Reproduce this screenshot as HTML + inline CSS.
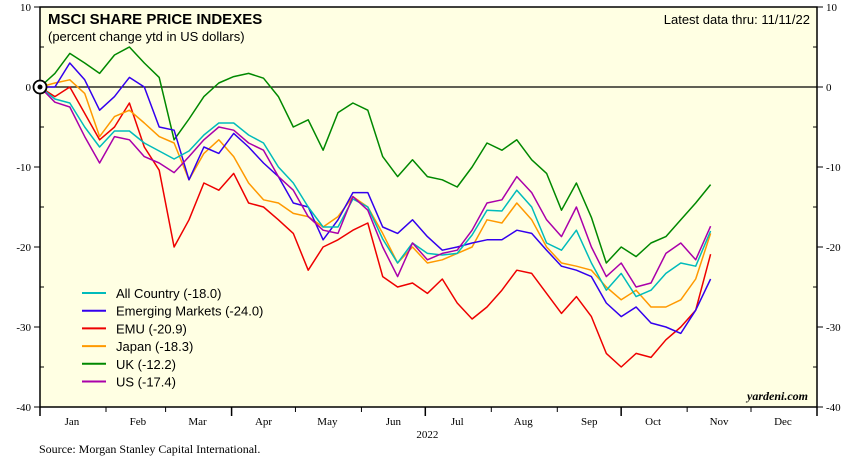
<!DOCTYPE html>
<html><head><meta charset="utf-8"><style>
body{margin:0;background:#fff;width:868px;height:465px;overflow:hidden}
svg{display:block}
</style></head><body>
<svg id="chart" width="868" height="465" xmlns="http://www.w3.org/2000/svg" font-family="Liberation Sans, sans-serif"></svg>
<script>
const weekDays = [0,7,14,21,28,35,42,49,56,63,70,77,84,91,98,105,112,119,126,133,140,147,154,161,168,175,182,189,196,203,210,217,224,231,238,245,252,259,266,273,280,287,294,301,308,315];
const allCountry = [0,-1.5,-2,-5,-7.5,-5.5,-5.5,-7,-8,-9,-8,-6,-4.5,-4.5,-6,-7,-10,-12,-15,-17.5,-17.5,-14,-15,-19,-22,-19.5,-20.8,-21,-20.8,-18.5,-15.4,-15.5,-12.9,-15,-19.5,-20.4,-17.9,-22,-25.4,-23.3,-26.2,-25.4,-23.3,-22,-22.4,-18];
const emerging = [0,0,3,0.9,-2.9,-1.2,1.2,0,-5,-5.4,-11.6,-7.5,-8.3,-5.8,-7.5,-9.5,-11.2,-14.5,-15,-19.1,-16.6,-13.2,-13.2,-17.5,-18.3,-16.6,-18.7,-20.4,-20,-19.5,-19.1,-19.1,-17.9,-18.3,-20.4,-22.4,-22.9,-23.7,-27,-28.7,-27.5,-29.5,-30,-30.8,-27.9,-24];
const emu = [0,-1.2,0,-3.3,-6.6,-5,-2,-7.5,-10.4,-20,-16.6,-12,-12.9,-10.8,-14.5,-15,-16.6,-18.3,-22.9,-20,-19.1,-17.9,-17,-23.7,-25,-24.5,-25.8,-24,-27,-29,-27.5,-25.4,-22.9,-23.3,-25.8,-28.3,-26.2,-28.7,-33.3,-35,-33.3,-33.8,-31.6,-30,-27.9,-20.9];
const japan = [0,0.5,0.9,-0.8,-6.2,-3.7,-2.9,-4.5,-6.2,-7,-11.6,-8.3,-6.6,-8.7,-12,-14.1,-14.5,-15.8,-16.2,-17.5,-16.2,-13.7,-15,-18.3,-22,-20,-22,-21.6,-20.8,-20,-16.6,-17,-14.5,-16.6,-20,-22,-22.4,-22.9,-25,-26.6,-25.4,-27.5,-27.5,-26.6,-24,-18.3];
const uk = [0,1.7,4.2,3,1.7,4,5,3,1.2,-6.6,-4,-1.2,0.5,1.3,1.7,1.1,-1.2,-5,-4.1,-7.9,-3.2,-2,-2.9,-8.7,-11.2,-9.1,-11.2,-11.6,-12.5,-10,-7,-7.9,-6.6,-9.1,-10.8,-15.4,-12,-16.3,-22,-20,-21.2,-19.5,-18.7,-16.6,-14.5,-12.2];
const us = [0,-1.9,-2.5,-6.2,-9.5,-6.2,-6.6,-8.7,-9.5,-10.7,-8.7,-6.6,-5,-5.4,-7,-7.9,-11.2,-12.9,-16.2,-17.9,-18.3,-13.7,-15.4,-20,-23.7,-19.5,-21.6,-20.8,-20.4,-17.9,-14.5,-14.1,-11.2,-13.2,-16.6,-18.7,-15,-20,-23.7,-22,-25,-24.5,-20.8,-19.5,-21.6,-17.4];
const seriesNames = ["All Country (-18.0)","Emerging Markets (-24.0)","EMU (-20.9)","Japan (-18.3)","UK (-12.2)","US (-17.4)"];
const seriesColors = ["#00BBBB","#3300EE","#EE0000","#FF9900","#008800","#AA00AA"];
const yTicks = [10,0,-10,-20,-30,-40];
const months = ["Jan","Feb","Mar","Apr","May","Jun","Jul","Aug","Sep","Oct","Nov","Dec"];
const monthStarts = [0,31,59,90,120,151,181,212,243,273,304,334,365];

const NS="http://www.w3.org/2000/svg";
const svg=document.getElementById('chart');
const L=40,R=817,T=7,B=407;
const xS=d=>L+d*(R-L)/365;
const yS=v=>T+(10-v)*(B-T)/50;
function mk(tag,attrs,parent){const e=document.createElementNS(NS,tag);for(const k in attrs)e.setAttribute(k,attrs[k]);(parent||svg).appendChild(e);return e;}

const bg=mk('rect',{x:L,y:T,width:R-L,height:B-T,fill:'#FFFFE3',stroke:'#000','stroke-width':1.5});



yTicks.forEach(v=>{
  const y=yS(v);
  const t1=mk('line',{x1:L-6,x2:L,y1:y,y2:y,stroke:'#000'});
  
  
  const t2=mk('line',{x1:R,x2:R+6,y1:y,y2:y,stroke:'#000'});
  
  
  const a=mk('text',{x:L-9,y:y+4,'text-anchor':'end','font-size':11,'font-family':'Liberation Serif, serif'});a.textContent=v;
  
  
  const b=mk('text',{x:R+9,y:y+4,'font-size':11,'font-family':'Liberation Serif, serif'});b.textContent=v;
  
  
});
[5,-5,-15,-25,-35].forEach(v=>{
  const y=yS(v);
  mk('line',{x1:L,x2:L+4,y1:y,y2:y,stroke:'#000'});
  mk('line',{x1:R-4,x2:R,y1:y,y2:y,stroke:'#000'});
});
const zl=mk('line',{x1:L,x2:R,y1:yS(0),y2:yS(0),stroke:'#000','stroke-width':1.2});



monthStarts.forEach((d,i)=>{
  const x=xS(d);const big=(i%3===0);
  const t=mk('line',{x1:x,x2:x,y1:B,y2:B+(big?9:5),stroke:'#000','stroke-width':big?1.5:1});
  
  
  if(i<12){
    const m=mk('text',{x:xS(d+15),y:B+18,'text-anchor':'middle','font-size':11,'font-family':'Liberation Serif, serif'});m.textContent=months[i];
    
    
  }
});
const yr=mk('text',{x:xS(182),y:B+31,'text-anchor':'middle','font-size':11,'font-family':'Liberation Serif, serif'});yr.textContent='2022';



const data=[allCountry,emerging,emu,japan,uk,us];
const order=[4,2,3,1,0,5];
order.forEach(i=>{
  const pts=data[i].map((v,k)=>xS(weekDays[k]).toFixed(1)+','+yS(v).toFixed(1)).join(' ');
  const p=mk('polyline',{points:pts,fill:'none',stroke:seriesColors[i],'stroke-width':1.5,'stroke-linejoin':'round'});
  
  
});

const oc=mk('circle',{cx:L,cy:yS(0),r:6.5,fill:'#fff',stroke:'#000','stroke-width':1.8});


mk('circle',{cx:L,cy:yS(0),r:2.5,fill:'#000'});

seriesNames.forEach((n,i)=>{
  const y=293+i*17.7;
  const ln=mk('line',{x1:82,x2:106,y1:y,y2:y,stroke:seriesColors[i],'stroke-width':2});
  
  
  const tx=mk('text',{x:116,y:y+5,'font-size':13});tx.textContent=n;
  
  
});

const title=mk('text',{x:48,y:24,'font-size':15,'font-weight':'bold'});title.textContent='MSCI SHARE PRICE INDEXES';


const sub=mk('text',{x:48,y:41,'font-size':13});sub.textContent='(percent change ytd in US dollars)';


const ld=mk('text',{x:810,y:24,'font-size':13,'text-anchor':'end'});ld.textContent='Latest data thru: 11/11/22';


const yd=mk('text',{x:808,y:400,'font-size':12,'text-anchor':'end','font-style':'italic','font-weight':'bold','font-family':'Liberation Serif, serif'});yd.textContent='yardeni.com';


const src=mk('text',{x:39,y:453,'font-size':12,'font-family':'Liberation Serif, serif'});src.textContent='Source: Morgan Stanley Capital International.';


</script>
</body></html>
